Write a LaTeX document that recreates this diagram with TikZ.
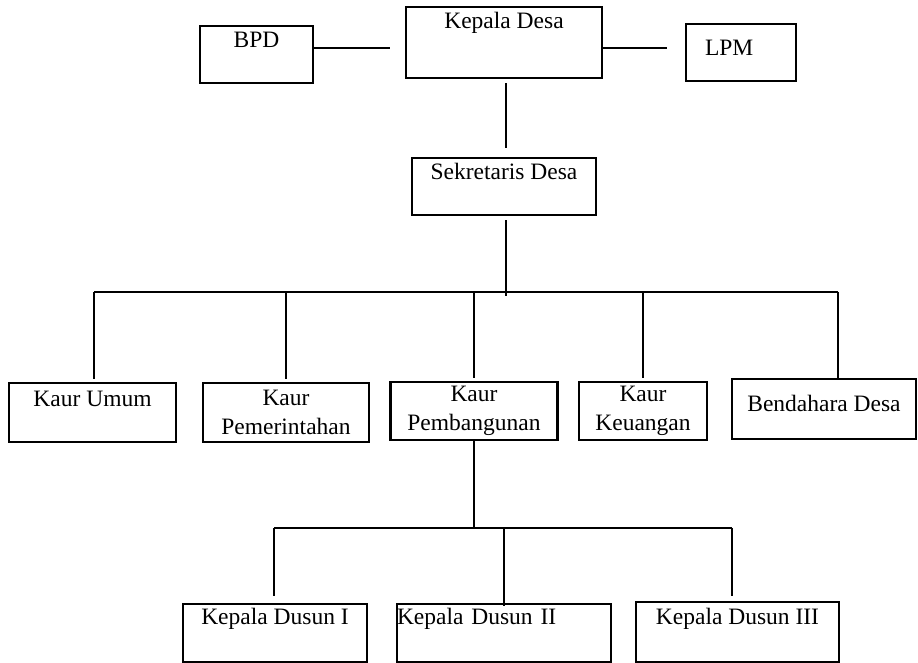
\documentclass[tikz,border=0pt]{standalone}
\usepackage{fontspec}
\setmainfont{Liberation Serif}
\begin{document}
\begin{tikzpicture}[x=0.5pt, y=-0.5pt, unit/.style={draw, line width=1.1pt, inner sep=0pt, align=center, font=\fontsize{11.75}{14.6}\selectfont}, link/.style={line width=1pt}]
       \useasboundingbox (0,0) rectangle (918,663);
       % top row
       \node[unit, minimum width=56.5pt, text height=10.75pt, text depth=17.75pt] (bpd) at (256.5,54.5) {BPD};
       \node[unit, minimum width=98pt, text height=11pt, text depth=24.5pt] (kades) at (504,42.5) {Kepala Desa};
       \node[unit, align=left, inner xsep=9.5pt, text width=36pt, text height=16pt, text depth=12.5pt] (lpm) at (741,52.5) {LPM};
       \node[unit, minimum width=92pt, text height=11pt, text depth=17.5pt] (sekdes) at (504,186.5) {Sekretaris Desa};
       % kaur row
       \node[unit, minimum width=83.5pt, text height=12pt, text depth=17.5pt] (umum) at (92.5,412.5) {Kaur Umum};
       \node[unit, minimum width=83pt, minimum height=29.5pt] (pem) at (286,412.5) {Kaur\\Pemerintahan};
       \node[unit, minimum width=83.5pt, minimum height=29pt] (pemb) at (474,411) {Kaur\\Pembangunan};
       \node[unit, minimum width=64pt, minimum height=29pt] (keu) at (643,411) {Kaur\\Keuangan};
       \node[unit, minimum width=92pt, text height=16.5pt, text depth=13.5pt] (bend) at (824,409) {Bendahara Desa};
       % dusun row
       \node[unit, minimum width=92pt, text height=10.5pt, text depth=18.5pt] (dusun1) at (275,633) {Kepala Dusun I};
       \node[unit, align=left, text width=107pt, text height=10.5pt, text depth=18.5pt] (dusun2) at (504,633) {Kepala Dusun II};
       \node[unit, minimum width=101.5pt, text height=11.5pt, text depth=18.5pt] (dusun3) at (737.5,632) {Kepala Dusun III};

       \coordinate (bpdend) at (390,48);
       \coordinate (lpmend) at (667,48);
       \coordinate (bus) at (506,292);
       \coordinate (busL) at (94,292);
       \coordinate (busR) at (838,292);
       \coordinate (sub) at (474,528);
       \coordinate (subL) at (274,528);
       \coordinate (subR) at (732,528);

       \draw[link] (bpd.east |- bpdend) -- (bpdend);
       \draw[link] (kades.east |- lpmend) -- (lpmend);
       \draw[link] ([xshift=1pt,yshift=-2pt]kades.south) -- ([xshift=1pt,yshift=4.5pt]sekdes.north);
       \draw[link] ([xshift=1pt,yshift=-2pt]sekdes.south) -- ([yshift=-2pt]bus);
       \draw[link] (busL) -- (busR);
       \draw[link] (busL) -- ([yshift=1.5pt]busL |- umum.north);
       \foreach \n in {pem,pemb,keu}{\draw[link] (\n.north |- bus) -- ([yshift=1.5pt]\n.north); }
       \draw[link] (busR) -- (busR |- bend.north);
       \draw[link] (pemb.south) -- (pemb.south |- sub);
       \draw[link] (subL) -- (subR);
       \draw[link] (subL) -- ([yshift=3.5pt]subL |- dusun1.north);
       \draw[link] (dusun2.north |- sub) -- ([yshift=-1.5pt]dusun2.north);
       \draw[link] (subR) -- ([yshift=2.5pt]subR |- dusun3.north);
     \end{tikzpicture}
\end{document}
